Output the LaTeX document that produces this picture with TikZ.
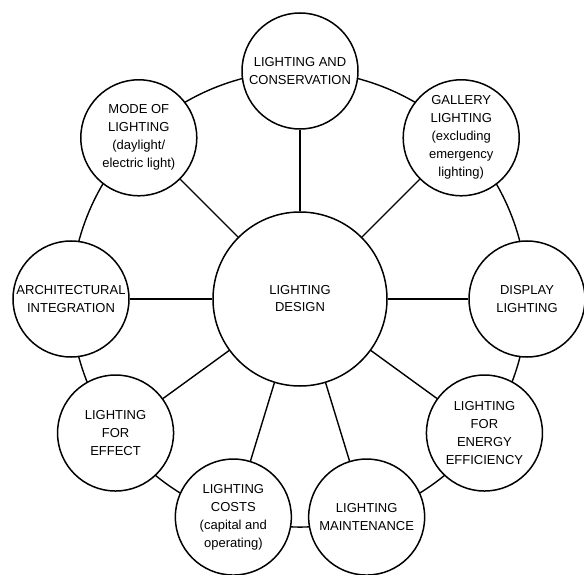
\documentclass[tikz,border=0pt]{standalone}
\usepackage{fontspec}
\setmainfont{Liberation Sans}
\usetikzlibrary{calc,backgrounds}
\begin{document}
\begin{tikzpicture}[x=1pt,y=1pt,
  hub/.style={circle,draw,line width=1.5pt,fill=white,minimum size=174pt,inner sep=0pt,align=center,font=\fontsize{13}{17}\selectfont},
  sat/.style={circle,draw,line width=1.5pt,fill=white,minimum size=116pt,inner sep=0pt,align=center,font=\fontsize{13}{18}\selectfont},
  link/.style={line width=1.4pt},
  ring/.style={line width=1.4pt,looseness=0.88}]
\useasboundingbox (0,0) rectangle (584,574);
\node[hub] (c) at (300,275) {LIGHTING\\DESIGN};
\node[sat] (cons) at ($(c)+(90:228)$) {LIGHTING AND\\CONSERVATION};
\node[sat] (mode) at ($(c)+(135:228)$) {MODE OF\\LIGHTING\\(daylight/\\electric light)};
\node[sat] (gal) at ($(c)+(45:228)$) {GALLERY\\LIGHTING\\(excluding\\emergency\\lighting)};
\node[sat] (arch) at ($(c)+(180:229)$) {ARCHITECTURAL\\INTEGRATION};
\node[sat] (disp) at ($(c)+(0:227)$) {DISPLAY\\LIGHTING};
\node[sat] (eff) at ($(c)+(216:228)$) {LIGHTING\\FOR\\EFFECT};
\node[sat] (cost) at ($(c)+(253:228)$) {LIGHTING\\COSTS\\(capital and\\operating)};
\node[sat] (maint) at ($(c)+(287:228)$) {LIGHTING\\MAINTENANCE};
\node[sat] (ener) at ($(c)+(324:228)$) {LIGHTING\\FOR\\ENERGY\\EFFICIENCY};
\foreach \n in {cons,mode,gal,arch,disp,eff,cost,maint,ener}
  \draw[link] (c) -- (\n);
\begin{scope}[on background layer]
\draw[ring] (disp.center) to[bend right=22.5] (gal.center);
\draw[ring] (gal.center) to[bend right=22.5] (cons.center);
\draw[ring] (cons.center) to[bend right=22.5] (mode.center);
\draw[ring] (mode.center) to[bend right=22.5] (arch.center);
\draw[ring] (arch.center) to[bend right=18] (eff.center);
\draw[ring] (eff.center) to[bend right=18.5] (cost.center);
\draw[ring] (cost.center) to[bend right=17] (maint.center);
\draw[ring] (maint.center) to[bend right=18.5] (ener.center);
\draw[ring] (ener.center) to[bend right=18] (disp.center);
\end{scope}
\end{tikzpicture}
\end{document}
